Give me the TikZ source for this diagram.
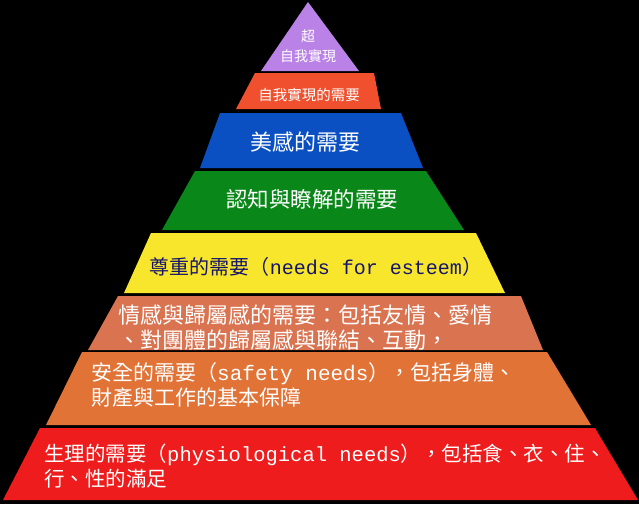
\documentclass[tikz,border=0pt]{standalone}
\usepackage{fontspec}
\setmainfont{Noto Sans CJK TC}
\newfontfamily\lat{Liberation Mono}
\begin{document}
\begin{tikzpicture}[x=1pt,y=-1pt,
  tier/.style={draw=none},
  lbl/.style={text=white,inner sep=0pt,align=left,font=\fontsize{#1}{25}\selectfont},
  lbl/.default=18]
\fill[black] (0,0) rectangle (639,504);
\fill[tier,fill={rgb,255:red,186;green,130;blue,230}] (308,2) -- (359,71) -- (261,71) -- cycle;
\fill[tier,fill={rgb,255:red,240;green,80;blue,45}] (255,73) -- (374,73) -- (381,109) -- (236,109) -- cycle;
\fill[tier,fill={rgb,255:red,10;green,80;blue,195}] (220,113) -- (401,113) -- (423,168) -- (200,168) -- cycle;
\fill[tier,fill={rgb,255:red,10;green,135;blue,25}] (195,171) -- (426,171) -- (464,230) -- (162,230) -- cycle;
\fill[tier,fill={rgb,255:red,248;green,230;blue,45}] (151,233) -- (476,233) -- (505,293) -- (124,293) -- cycle;
\fill[tier,fill={rgb,255:red,217;green,115;blue,80}] (118,296) -- (521,296) -- (543,350) -- (88,350) -- cycle;
\fill[tier,fill={rgb,255:red,225;green,115;blue,55}] (82,352) -- (547,352) -- (591,425) -- (46,425) -- cycle;
\fill[tier,fill={rgb,255:red,238;green,28;blue,28}] (40,428) -- (595,428) -- (638,500) -- (3,500) -- cycle;
\node[lbl=14,align=center,font=\fontsize{14}{20}\selectfont] (t1) at (308,46) {超\\自我實現};
\node[lbl=14.5] (t2) at (309,95) {自我實現的需要};
\node[lbl=22] (t3) at (305,142) {美感的需要};
\node[lbl=21.5] (t4) at (312,199) {認知與瞭解的需要};
\node[lbl=20,text={rgb,255:red,20;green,20;blue,110}] (t5) at (316,267) {尊重的需要（{\lat needs for esteem}）};
\node[lbl=22,anchor=west] (t6) at (118,328) {情感與歸屬感的需要：包括友情、愛情\\、對團體的歸屬感與聯結、互動，};
\node[lbl=21,anchor=west] (t7) at (91,385) {安全的需要（{\lat safety needs}），包括身體、\\財產與工作的基本保障};
\node[lbl=20.5,anchor=west] (t8) at (44,466) {生理的需要（{\lat physiological needs}），包括食、衣、住、\\行、性的滿足};
\end{tikzpicture}
\end{document}
